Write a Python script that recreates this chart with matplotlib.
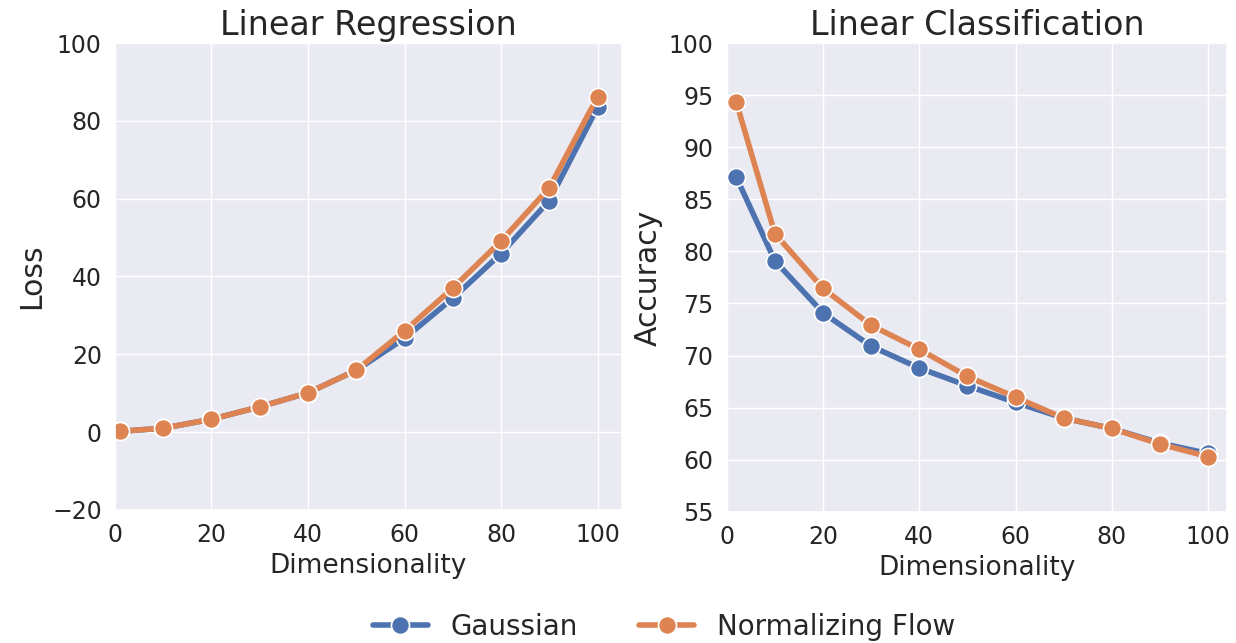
import numpy as np
import seaborn as sns
from matplotlib import pyplot as plt

# data
reg_x = [1, 10, 20, 30, 40, 50, 60, 70, 80, 90, 100]
reg_gauss = [0.2, 1.0, 3.3, 6.5, 10.1, 15.9, 24.1, 34.4, 45.9, 59.5, 83.5]
reg_flow = [0.2, 1.0, 3.3, 6.5, 10.1, 15.9, 26.0, 37.0, 49.1, 62.8, 86.2]

cls_x = [2, 10, 20, 30, 40, 50, 60, 70, 80, 90, 100]
cls_gauss = [87.1, 79.1, 74.1, 70.9, 68.8, 67.1, 65.5, 64.0, 63.0, 61.6, 60.6]
cls_flow = [94.3, 81.7, 76.45, 72.9, 70.6, 68.0, 66.0, 64.0, 63.0, 61.5, 60.3]

labels = ['Gaussian', 'Normalizing Flow']

sns.set_theme(style='darkgrid')
plt.rcParams['font.family'] = ['DejaVu Sans']
pal = sns.color_palette('deep')

fig = plt.figure(figsize=(12.36, 6.43), dpi=100)
ax1 = fig.add_axes([0.093, 0.207, 0.410, 0.726])
ax2 = fig.add_axes([0.588, 0.204, 0.405, 0.729])

style = dict(lw=4, marker='o', markersize=13, markeredgecolor='white', markeredgewidth=1.2)

h1, = ax1.plot(reg_x, reg_gauss, color=pal[0], label=labels[0], **style)
h2, = ax1.plot(reg_x, reg_flow, color=pal[1], label=labels[1], **style)
ax1.set_xlim(0, 105)
ax1.set_ylim(-20, 100)
ax1.set_yticks(np.arange(-20, 101, 20))
ax1.set_xticks(np.arange(0, 101, 20))
ax1.set_title('Linear Regression', fontsize=24)
ax1.set_xlabel('Dimensionality', fontsize=19)
ax1.set_ylabel('Loss', fontsize=21.5)

ax2.plot(cls_x, cls_gauss, color=pal[0], **style)
ax2.plot(cls_x, cls_flow, color=pal[1], **style)
ax2.set_xlim(0, 104)
ax2.set_ylim(55, 100)
ax2.set_yticks(np.arange(55, 101, 5))
ax2.set_xticks(np.arange(0, 101, 20))
ax2.set_title('Linear Classification', fontsize=24)
ax2.set_xlabel('Dimensionality', fontsize=19)
ax2.set_ylabel('Accuracy', fontsize=21.5)

for ax in (ax1, ax2):
    ax.tick_params(labelsize=17)

fig.legend(handles=[h1, h2], loc='lower center', ncol=2, frameon=False,
           fontsize=20, bbox_to_anchor=(0.537, -0.035), columnspacing=2.2, handlelength=2.0)

fig.savefig('out.png', dpi=100)
plt.close()
